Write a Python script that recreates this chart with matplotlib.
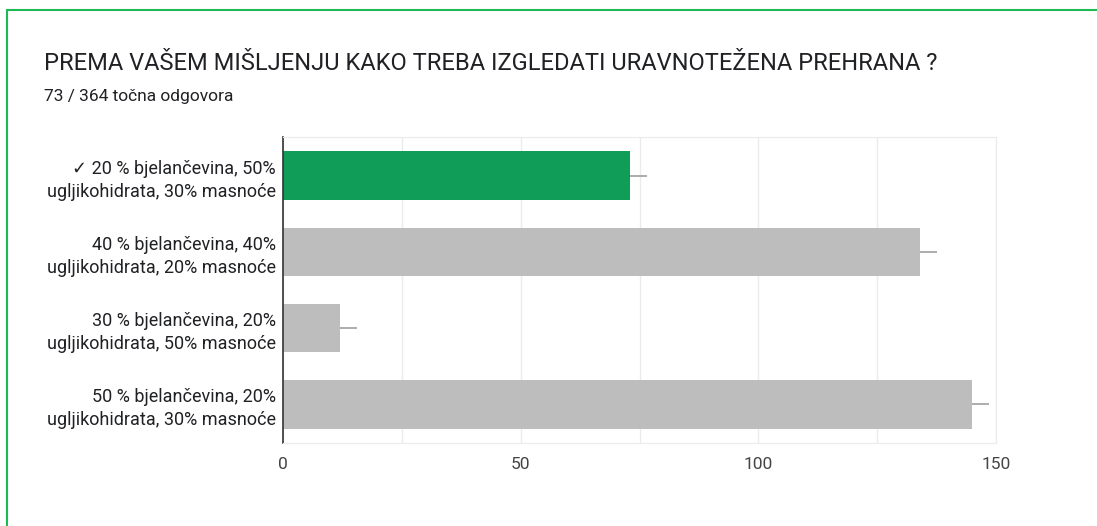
import matplotlib
matplotlib.use('Agg')
import matplotlib.pyplot as plt
from matplotlib.patches import Rectangle

# ── podaci ──
labels = [
    '✓ 20 % bjelančevina, 50%\nugljikohidrata, 30% masnoće',
    '40 % bjelančevina, 40%\nugljikohidrata, 20% masnoće',
    '30 % bjelančevina, 20%\nugljikohidrata, 50% masnoće',
    '50 % bjelančevina, 20%\nugljikohidrata, 30% masnoće',
]
counts = [73, 134, 12, 145]
correct = [True, False, False, False]
ticks = [0, 50, 100, 150]

title = 'PREMA VAŠEM MIŠLJENJU KAKO TREBA IZGLEDATI URAVNOTEŽENA PREHRANA ?'
subtitle = '73 / 364 točna odgovora'

GREEN = '#109d58'
GRAY = '#bdbdbd'
TXT = '#202124'

plt.rcParams['font.family'] = ['Roboto', 'DejaVu Sans']

fig = plt.figure(figsize=(10.97, 5.26), dpi=100, facecolor='white')

# zeleni okvir kartice
fig.patches.append(Rectangle((7 / 1097, -0.1), 1.2, (526 - 10) / 526 + 0.1,
                             transform=fig.transFigure, fill=False,
                             edgecolor='#1db954', linewidth=1.5))

fig.text(44 / 1097, 1 - 64 / 526, title, fontsize=17, color=TXT, va='center')
fig.text(44 / 1097, 1 - 97 / 526, subtitle, fontsize=12.5, color=TXT, va='center')

ax = fig.add_axes([283 / 1097, 1 - 443 / 526, (996 - 283) / 1097, (443 - 137) / 526])
ypos = list(range(len(counts)))
colors = [GREEN if c else GRAY for c in correct]
ax.barh(ypos, counts, height=0.64, color=colors, edgecolor='none', zorder=2)
ax.errorbar(counts, ypos, xerr=[[0] * len(counts), [3.6] * len(counts)],
            fmt='none', ecolor='#9e9e9e', elinewidth=1.2, capsize=0, zorder=3)

ax.set_xlim(0, 150)
ax.set_ylim(3.51, -0.51)
ax.set_xticks(ticks)
ax.set_xticks([25, 75, 125], minor=True)
ax.grid(True, axis='x', which='both', color='#ebebeb', linewidth=1, zorder=0)
ax.set_yticks(ypos)
ax.set_yticklabels(labels, fontsize=13, color=TXT, linespacing=1.35)
ax.tick_params(axis='y', length=0, pad=5)
ax.tick_params(axis='x', which='both', length=0, pad=10, labelsize=12.5, labelcolor='#444444')
for s in ['top', 'right', 'bottom']:
    ax.spines[s].set_color('#ebebeb')
ax.spines['left'].set_color('#333333')
ax.spines['left'].set_linewidth(1.2)

fig.savefig('out.png', dpi=100, facecolor='white')
